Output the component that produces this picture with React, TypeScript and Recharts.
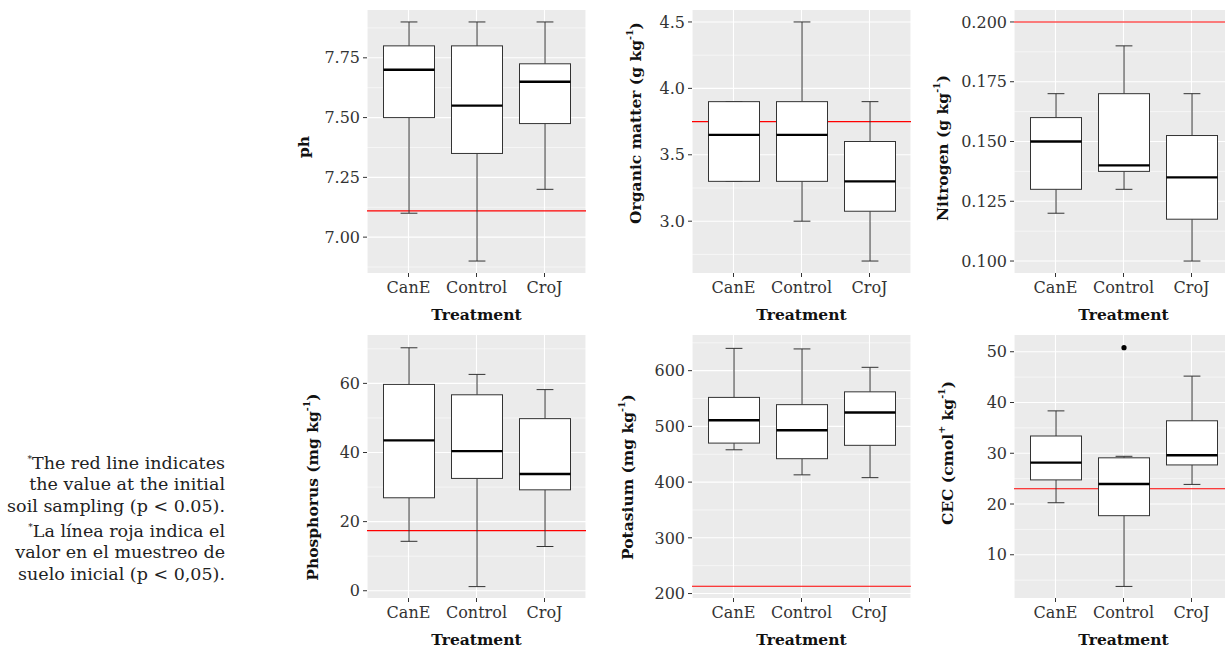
import React from 'react';
import { ComposedChart, Bar, XAxis, YAxis, CartesianGrid, ReferenceLine } from 'recharts';

const treatments = ['CanE', 'Control', 'CroJ'];

// five-number summaries per treatment: [min, Q1, median, Q3, max]
const phBoxes = [
  [7.1, 7.5, 7.7, 7.8, 7.9],
  [6.9, 7.35, 7.55, 7.8, 7.9],
  [7.2, 7.475, 7.65, 7.725, 7.9],
];
const omBoxes = [
  [3.3, 3.3, 3.65, 3.9, 3.9],
  [3.0, 3.3, 3.65, 3.9, 4.5],
  [2.7, 3.075, 3.3, 3.6, 3.9],
];
const nBoxes = [
  [0.12, 0.13, 0.15, 0.16, 0.17],
  [0.13, 0.1375, 0.14, 0.17, 0.19],
  [0.1, 0.1175, 0.135, 0.1525, 0.17],
];
const pBoxes = [
  [14.3, 26.9, 43.5, 59.7, 70.3],
  [1.2, 32.5, 40.4, 56.7, 62.6],
  [12.8, 29.2, 33.8, 49.8, 58.2],
];
const kBoxes = [
  [458, 470, 511, 552, 640],
  [413, 442, 493, 539, 639],
  [408, 466, 525, 562, 606],
];
const cecBoxes = [
  [20.25, 24.75, 28.15, 33.4, 38.35],
  [3.76, 17.7, 23.95, 29.1, 29.4],
  [23.86, 27.7, 29.6, 36.4, 45.2],
];
const cecOutliers = [[], [50.8], []];

// initial soil sampling values (red lines)
const phRef = 7.11;
const omRef = 3.75;
const nRef = 0.2;
const pRef = 17.4;
const kRef = 213;
const cecRef = 23.0;

// axis ticks
const phTicks = [7.0, 7.25, 7.5, 7.75];
const phMinor = [6.875, 7.125, 7.375, 7.625, 7.875];
const omTicks = [3.0, 3.5, 4.0, 4.5];
const omMinor = [2.75, 3.25, 3.75, 4.25];
const nTicks = [0.1, 0.125, 0.15, 0.175, 0.2];
const nMinor = [0.1125, 0.1375, 0.1625, 0.1875];
const pTicks = [0, 20, 40, 60];
const pMinor = [10, 30, 50, 70];
const kTicks = [200, 300, 400, 500, 600];
const kMinor = [250, 350, 450, 550, 650];
const cecTicks = [10, 20, 30, 40, 50];
const cecMinor = [5, 15, 25, 35, 45];

const phDomain = [6.85, 7.95];
const omDomain = [2.61, 4.59];
const nDomain = [0.095, 0.205];
const pDomain = [-2.1, 74.0];
const kDomain = [192, 664];
const cecDomain = [1.48, 53.3];

const FONT = '"DejaVu Serif", serif';

const BoxShape = (props: any) => {
  const { x, y, width, height, payload } = props;
  if (x == null || y == null || !payload) return null;
  const { min, q1, median, q3, max, outliers } = payload;
  const top = Math.min(y, y + height);
  const h = Math.abs(height);
  const span = max - min;
  const k = span > 0 ? h / span : 0;
  const py = (v: number) => top + (max - v) * k;
  const cx = x + width / 2;
  const cap = width * 0.33;
  const stroke = '#333333';
  return (
    <g>
      <line x1={cx} x2={cx} y1={py(max)} y2={py(q3)} stroke={stroke} strokeWidth={1} />
      <line x1={cx} x2={cx} y1={py(q1)} y2={py(min)} stroke={stroke} strokeWidth={1} />
      <line x1={cx - cap / 2} x2={cx + cap / 2} y1={py(max)} y2={py(max)} stroke={stroke} strokeWidth={1} />
      <line x1={cx - cap / 2} x2={cx + cap / 2} y1={py(min)} y2={py(min)} stroke={stroke} strokeWidth={1} />
      <rect x={x} y={py(q3)} width={width} height={py(q1) - py(q3)} fill="#FFFFFF" fillOpacity={1} stroke={stroke} strokeWidth={1} />
      <line x1={x} x2={x + width} y1={py(median)} y2={py(median)} stroke="#000000" strokeWidth={2.4} />
      {(outliers || []).map((o: number, i: number) => (
        <circle key={i} cx={cx} cy={py(o)} r={2.6} fill="#000000" />
      ))}
    </g>
  );
};

const NoShape = () => null;

type LabelPart = { t: string; sup?: boolean };

const AXW = 100;
const TOP = 10;
const PW = 219;
const PH = 263;
const XH = 55;
const XPAD = { left: 7.5, right: 7.5 };

function Panel(props: {
  bgLeft: number;
  bgTop: number;
  boxes: number[][];
  outliers?: number[][];
  domain: number[];
  ticks: number[];
  minor: number[];
  refValue: number;
  fmt: (v: number) => string;
  label: LabelPart[];
  labelX: number;
  labelY: number;
}) {
  const { bgLeft, bgTop, boxes, outliers, domain, ticks, minor, refValue, fmt, label, labelX, labelY } = props;
  const chartLeft = bgLeft - AXW;
  const chartTop = bgTop - TOP;
  const W = AXW + PW;
  const H = TOP + PH + XH;
  const data = treatments.map((t, i) => ({
    treatment: t,
    min: boxes[i][0],
    q1: boxes[i][1],
    median: boxes[i][2],
    q3: boxes[i][3],
    max: boxes[i][4],
    outliers: outliers ? outliers[i] : [],
  }));
  const range = (d: any) => [d.min, d.max];
  const lx = labelX - chartLeft;
  const ly = labelY - chartTop;
  const yLabel = () => (
    <text
      x={lx}
      y={ly}
      transform={`rotate(-90 ${lx} ${ly})`}
      textAnchor="middle"
      dominantBaseline="central"
      fontWeight="bold"
      fontSize={15.5}
      fill="#111111"
      fontFamily={FONT}
    >
      {label.map((p, i) => {
        const prevSup = i > 0 && label[i - 1].sup;
        if (p.sup) {
          return (
            <tspan key={i} fontSize={9.5} dy={-6}>
              {p.t}
            </tspan>
          );
        }
        return (
          <tspan key={i} dy={prevSup ? 6 : 0}>
            {p.t}
          </tspan>
        );
      })}
    </text>
  );
  const xLabel = (lp: any) => {
    const vb = lp.viewBox || {};
    return (
      <text
        x={vb.x + vb.width / 2}
        y={vb.y + 47}
        textAnchor="middle"
        fontWeight="bold"
        fontSize={15.5}
        fill="#111111"
        fontFamily={FONT}
      >
        Treatment
      </text>
    );
  };
  const pos: React.CSSProperties = { position: 'absolute', left: chartLeft, top: chartTop };
  return (
    <>
      {/* background layer: panel, grid, red reference line, axes */}
      <div style={{ ...pos, zIndex: 1 }}>
        <ComposedChart width={W} height={H} data={data} margin={{ top: TOP, right: 0, bottom: 0, left: 0 }}>
          <CartesianGrid fill="#EBEBEB" stroke="#FFFFFF" strokeWidth={1.1} horizontalValues={ticks} />
          <CartesianGrid horizontalValues={minor} vertical={false} stroke="#FFFFFF" strokeWidth={0.55} />
          <XAxis
            dataKey="treatment"
            height={XH}
            padding={XPAD}
            axisLine={false}
            tickLine={{ stroke: '#333333' }}
            tickSize={4}
            tickMargin={5}
            interval={0}
            tick={{ fontSize: 16, fill: '#333333', fontFamily: FONT }}
            label={xLabel}
          />
          <YAxis
            type="number"
            width={AXW}
            domain={domain}
            ticks={ticks}
            allowDataOverflow
            axisLine={false}
            tickLine={{ stroke: '#333333' }}
            tickSize={4}
            tickMargin={3}
            tickFormatter={fmt}
            tick={{ fontSize: 16, fill: '#333333', fontFamily: FONT }}
            label={yLabel}
          />
          <ReferenceLine y={refValue} stroke="#FF0000" strokeWidth={1.1} />
          <Bar dataKey={range} barSize={51} shape={NoShape} isAnimationActive={false} />
        </ComposedChart>
      </div>
      {/* foreground layer: the boxplots, same scales */}
      <div style={{ ...pos, zIndex: 2 }}>
        <ComposedChart width={W} height={H} data={data} margin={{ top: TOP, right: 0, bottom: XH, left: AXW }}>
          <XAxis dataKey="treatment" hide padding={XPAD} />
          <YAxis type="number" hide domain={domain} ticks={ticks} allowDataOverflow />
          <Bar dataKey={range} barSize={51} shape={BoxShape} isAnimationActive={false} />
        </ComposedChart>
      </div>
    </>
  );
}

const noteLines1 = ['The red line indicates', 'the value at the initial', 'soil sampling (p < 0.05).'];
const noteLines2 = ['La línea roja indica el', 'valor en el muestreo de', 'suelo inicial (p < 0,05).'];

function Note() {
  const right = 225;
  const base1 = [468.5, 490, 511.7];
  const base2 = [536.7, 558.3, 580];
  const line = (txt: string, y: number, star: boolean, key: string) => (
    <text key={key} x={right} y={y} textAnchor="end" fontSize={17.5} fill="#222222" fontFamily={FONT}>
      {star ? (
        <>
          <tspan fontSize={9} dy={-7}>*</tspan>
          <tspan dy={7}>{txt}</tspan>
        </>
      ) : (
        txt
      )}
    </text>
  );
  return (
    <svg width={260} height={648} style={{ position: 'absolute', left: 0, top: 0 }}>
      {noteLines1.map((t, i) => line(t, base1[i], i === 0, 'a' + i))}
      {noteLines2.map((t, i) => line(t, base2[i], i === 0, 'b' + i))}
    </svg>
  );
}

export default function App() {
  return (
    <div
      style={{
        position: 'absolute',
        left: 0,
        top: 0,
        width: 1225,
        height: 648,
        overflow: 'hidden',
        background: '#FFFFFF',
        fontFamily: FONT,
      }}
    >
      <Note />
      <Panel
        bgLeft={367}
        bgTop={10}
        boxes={phBoxes}
        domain={phDomain}
        ticks={phTicks}
        minor={phMinor}
        refValue={phRef}
        fmt={(v) => v.toFixed(2)}
        label={[{ t: 'ph' }]}
        labelX={303}
        labelY={147}
      />
      <Panel
        bgLeft={692}
        bgTop={10}
        boxes={omBoxes}
        domain={omDomain}
        ticks={omTicks}
        minor={omMinor}
        refValue={omRef}
        fmt={(v) => v.toFixed(1)}
        label={[{ t: 'Organic matter (g kg' }, { t: '-1', sup: true }, { t: ')' }]}
        labelX={635}
        labelY={123}
      />
      <Panel
        bgLeft={1014}
        bgTop={10}
        boxes={nBoxes}
        domain={nDomain}
        ticks={nTicks}
        minor={nMinor}
        refValue={nRef}
        fmt={(v) => v.toFixed(3)}
        label={[{ t: 'Nitrogen (g kg' }, { t: '-1', sup: true }, { t: ')' }]}
        labelX={942}
        labelY={148}
      />
      <Panel
        bgLeft={367}
        bgTop={335}
        boxes={pBoxes}
        domain={pDomain}
        ticks={pTicks}
        minor={pMinor}
        refValue={pRef}
        fmt={(v) => String(v)}
        label={[{ t: 'Phosphorus (mg kg' }, { t: '-1', sup: true }, { t: ')' }]}
        labelX={312}
        labelY={487}
      />
      <Panel
        bgLeft={692}
        bgTop={335}
        boxes={kBoxes}
        domain={kDomain}
        ticks={kTicks}
        minor={kMinor}
        refValue={kRef}
        fmt={(v) => String(v)}
        label={[{ t: 'Potasium (mg kg' }, { t: '-1', sup: true }, { t: ')' }]}
        labelX={627}
        labelY={477}
      />
      <Panel
        bgLeft={1014}
        bgTop={335}
        boxes={cecBoxes}
        outliers={cecOutliers}
        domain={cecDomain}
        ticks={cecTicks}
        minor={cecMinor}
        refValue={cecRef}
        fmt={(v) => String(v)}
        label={[{ t: 'CEC (cmol' }, { t: '+', sup: true }, { t: ' kg' }, { t: '-1', sup: true }, { t: ')' }]}
        labelX={947}
        labelY={453}
      />
    </div>
  );
}
